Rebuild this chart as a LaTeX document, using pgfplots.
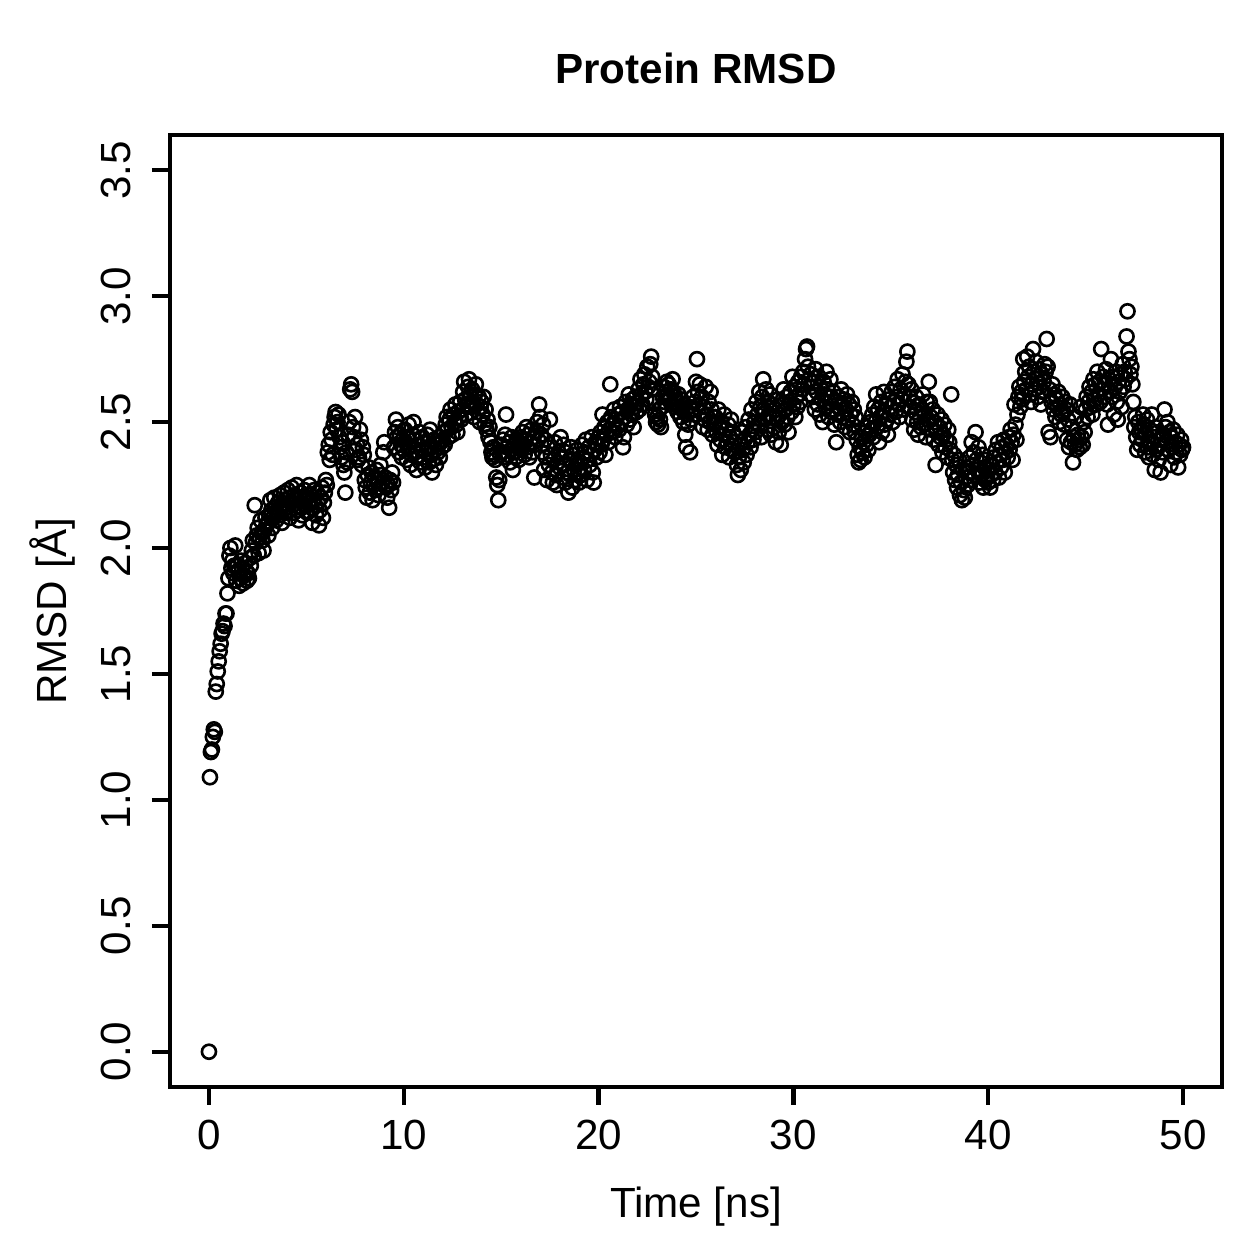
\documentclass[border=0pt]{standalone}
\usepackage{pgfplots}
\pgfplotsset{compat=1.18}
\usepackage{pgfplotstable}
\usepackage{fontspec}
\setmainfont{Liberation Sans}

% Protein backbone RMSD, one frame every 0.05 ns.
% Each row holds one nanosecond: column ck is the frame at t + k*0.05 ns.
\pgfplotstableread{
t c0 c1 c2 c3 c4 c5 c6 c7 c8 c9 c10 c11 c12 c13 c14 c15 c16 c17 c18 c19
0 0.00 1.09 1.19 1.20 1.25 1.28 1.27 1.43 1.46 1.51 1.55 1.59 1.62 1.66 1.67 1.70 1.69 1.74 1.74 1.82
1 1.88 1.97 2.00 1.92 1.95 1.90 1.93 2.01 1.87 1.93 1.91 1.85 1.88 1.95 1.92 1.86 1.89 1.94 1.91 1.87
2 1.90 1.88 1.96 1.93 1.99 2.03 1.97 2.17 2.02 2.05 2.08 1.98 2.04 2.11 2.06 2.03 1.99 2.07 2.12 2.09
3 2.10 2.05 2.13 2.19 2.15 2.08 2.12 2.20 2.16 2.11 2.14 2.18 2.13 2.21 2.17 2.10 2.15 2.22 2.14 2.19
4 2.16 2.23 2.20 2.12 2.18 2.24 2.17 2.14 2.21 2.19 2.25 2.15 2.11 2.20 2.22 2.16 2.13 2.19 2.23 2.17
5 2.20 2.14 2.18 2.25 2.21 2.16 2.10 2.19 2.23 2.17 2.13 2.22 2.18 2.09 2.15 2.20 2.24 2.12 2.18 2.22
6 2.27 2.25 2.38 2.41 2.35 2.46 2.43 2.37 2.49 2.52 2.54 2.47 2.50 2.53 2.44 2.40 2.36 2.42 2.33 2.30
7 2.22 2.38 2.34 2.45 2.50 2.63 2.65 2.62 2.48 2.44 2.52 2.39 2.41 2.35 2.36 2.47 2.43 2.33 2.40 2.37
8 2.27 2.24 2.20 2.29 2.32 2.22 2.26 2.30 2.19 2.25 2.28 2.23 2.31 2.27 2.21 2.24 2.33 2.29 2.26 2.38
9 2.42 2.28 2.24 2.20 2.25 2.16 2.27 2.23 2.30 2.26 2.40 2.46 2.51 2.44 2.48 2.38 2.45 2.41 2.36 2.43
10 2.39 2.47 2.42 2.35 2.44 2.49 2.40 2.33 2.37 2.45 2.50 2.43 2.38 2.31 2.36 2.41 2.46 2.34 2.39 2.44
11 2.36 2.42 2.32 2.38 2.45 2.40 2.34 2.47 2.37 2.30 2.35 2.43 2.39 2.33 2.41 2.38 2.44 2.36 2.42 2.40
12 2.43 2.46 2.41 2.49 2.52 2.47 2.44 2.51 2.55 2.48 2.45 2.53 2.50 2.57 2.49 2.46 2.54 2.52 2.58 2.51
13 2.55 2.62 2.66 2.59 2.53 2.57 2.64 2.67 2.60 2.56 2.63 2.58 2.52 2.61 2.65 2.57 2.54 2.60 2.50 2.56
14 2.58 2.53 2.60 2.49 2.55 2.47 2.51 2.44 2.48 2.42 2.38 2.36 2.40 2.37 2.35 2.28 2.25 2.19 2.27 2.37
15 2.41 2.38 2.43 2.36 2.45 2.53 2.40 2.37 2.42 2.34 2.39 2.44 2.31 2.38 2.41 2.36 2.43 2.40 2.35 2.42
16 2.44 2.39 2.46 2.41 2.37 2.43 2.48 2.40 2.45 2.36 2.42 2.47 2.38 2.44 2.28 2.41 2.46 2.50 2.43 2.57
17 2.52 2.45 2.38 2.49 2.31 2.43 2.36 2.27 2.40 2.33 2.51 2.37 2.30 2.26 2.35 2.42 2.29 2.25 2.34 2.38
18 2.32 2.44 2.36 2.28 2.41 2.33 2.26 2.38 2.30 2.22 2.35 2.29 2.40 2.24 2.37 2.31 2.27 2.33 2.39 2.30
19 2.26 2.34 2.29 2.41 2.36 2.31 2.38 2.43 2.27 2.35 2.40 2.33 2.37 2.44 2.30 2.26 2.39 2.42 2.36 2.41
20 2.44 2.38 2.46 2.41 2.53 2.43 2.48 2.37 2.45 2.50 2.42 2.47 2.65 2.52 2.46 2.49 2.55 2.44 2.51 2.48
21 2.53 2.47 2.56 2.50 2.54 2.40 2.44 2.52 2.58 2.49 2.55 2.61 2.51 2.57 2.53 2.59 2.48 2.56 2.60 2.54
22 2.58 2.63 2.55 2.67 2.61 2.57 2.65 2.69 2.62 2.59 2.72 2.64 2.66 2.73 2.76 2.68 2.63 2.58 2.53 2.50
23 2.52 2.49 2.55 2.51 2.48 2.56 2.60 2.64 2.58 2.62 2.66 2.61 2.65 2.59 2.63 2.57 2.67 2.62 2.56 2.60
24 2.58 2.54 2.61 2.56 2.52 2.59 2.55 2.50 2.57 2.45 2.40 2.53 2.49 2.56 2.38 2.51 2.55 2.60 2.53 2.58
25 2.66 2.75 2.62 2.57 2.65 2.54 2.60 2.48 2.56 2.51 2.64 2.53 2.47 2.58 2.50 2.62 2.55 2.45 2.52 2.49
26 2.52 2.46 2.41 2.55 2.48 2.43 2.50 2.37 2.45 2.53 2.40 2.47 2.42 2.49 2.36 2.44 2.51 2.39 2.46 2.42
27 2.38 2.44 2.33 2.29 2.36 2.41 2.31 2.46 2.39 2.34 2.43 2.48 2.37 2.42 2.51 2.45 2.40 2.55 2.47 2.43
28 2.50 2.46 2.58 2.53 2.49 2.62 2.56 2.44 2.60 2.67 2.55 2.51 2.63 2.47 2.58 2.53 2.61 2.45 2.57 2.52
29 2.48 2.55 2.42 2.51 2.59 2.46 2.53 2.41 2.50 2.57 2.63 2.49 2.55 2.60 2.52 2.46 2.58 2.62 2.54 2.68
30 2.57 2.64 2.52 2.60 2.56 2.66 2.61 2.58 2.68 2.63 2.70 2.65 2.75 2.79 2.80 2.72 2.67 2.61 2.69 2.64
31 2.60 2.66 2.55 2.71 2.62 2.57 2.68 2.53 2.64 2.59 2.50 2.66 2.61 2.56 2.70 2.63 2.52 2.58 2.67 2.60
32 2.55 2.62 2.49 2.58 2.42 2.53 2.60 2.56 2.50 2.63 2.57 2.52 2.59 2.48 2.55 2.61 2.51 2.57 2.46 2.53
33 2.58 2.49 2.55 2.46 2.52 2.43 2.37 2.34 2.40 2.35 2.44 2.38 2.42 2.36 2.46 2.41 2.48 2.39 2.45 2.50
34 2.47 2.53 2.44 2.56 2.50 2.61 2.48 2.55 2.42 2.52 2.58 2.46 2.54 2.62 2.49 2.57 2.51 2.45 2.59 2.53
35 2.56 2.62 2.50 2.58 2.64 2.54 2.60 2.67 2.57 2.52 2.63 2.59 2.69 2.55 2.61 2.66 2.74 2.78 2.65 2.60
36 2.56 2.63 2.51 2.58 2.47 2.54 2.60 2.50 2.45 2.57 2.52 2.48 2.55 2.61 2.49 2.53 2.44 2.58 2.51 2.66
37 2.58 2.52 2.47 2.55 2.43 2.50 2.33 2.46 2.53 2.41 2.48 2.44 2.51 2.38 2.45 2.49 2.40 2.43 2.36 2.47
38 2.42 2.39 2.61 2.35 2.30 2.37 2.27 2.33 2.24 2.29 2.35 2.21 2.26 2.19 2.31 2.23 2.20 2.28 2.32 2.25
39 2.30 2.36 2.27 2.42 2.33 2.38 2.29 2.46 2.35 2.31 2.40 2.26 2.34 2.29 2.37 2.24 2.32 2.27 2.35 2.28
40 2.26 2.31 2.24 2.29 2.33 2.27 2.36 2.30 2.39 2.34 2.42 2.28 2.37 2.32 2.40 2.35 2.43 2.30 2.38 2.41
41 2.36 2.44 2.39 2.47 2.42 2.35 2.45 2.57 2.49 2.43 2.53 2.60 2.64 2.56 2.62 2.59 2.75 2.66 2.70 2.63
42 2.76 2.68 2.72 2.61 2.58 2.65 2.79 2.70 2.63 2.74 2.67 2.60 2.71 2.64 2.57 2.69 2.62 2.66 2.73 2.70
43 2.83 2.72 2.46 2.63 2.44 2.58 2.65 2.55 2.61 2.52 2.59 2.56 2.62 2.50 2.57 2.53 2.60 2.54 2.49 2.58
44 2.55 2.43 2.51 2.40 2.57 2.42 2.48 2.34 2.44 2.41 2.52 2.39 2.45 2.43 2.40 2.56 2.44 2.41 2.50 2.46
45 2.55 2.60 2.52 2.58 2.64 2.56 2.62 2.53 2.67 2.59 2.65 2.57 2.70 2.61 2.66 2.58 2.79 2.63 2.68 2.60
46 2.65 2.71 2.57 2.49 2.67 2.62 2.75 2.60 2.68 2.53 2.64 2.70 2.58 2.51 2.66 2.62 2.69 2.56 2.73 2.64
47 2.70 2.67 2.84 2.94 2.78 2.75 2.69 2.72 2.65 2.58 2.48 2.52 2.44 2.39 2.50 2.46 2.41 2.47 2.43 2.53
48 2.49 2.38 2.45 2.51 2.40 2.36 2.47 2.42 2.53 2.37 2.44 2.31 2.48 2.39 2.46 2.35 2.41 2.30 2.43 2.38
49 2.45 2.55 2.48 2.42 2.50 2.39 2.46 2.33 2.44 2.40 2.47 2.36 2.42 2.38 2.45 2.32 2.41 2.37 2.43 2.39
50 2.40 nan nan nan nan nan nan nan nan nan nan nan nan nan nan nan nan nan nan nan
}\rmsdtable

\begin{document}
\begin{tikzpicture}
\useasboundingbox (-1.70,-1.72) rectangle (10.89,10.87);
\begin{axis}[
  at={(0,0)}, anchor=south west,
  scale only axis, width=10.52cm, height=9.52cm,
  xmin=-2, xmax=52, ymin=-0.14, ymax=3.64,
  axis line style={line width=1.2pt},
  xtick={0,10,20,30,40,50},
  ytick={0,0.5,1,1.5,2,2.5,3,3.5},
  xtick pos=left, ytick pos=left,
  tick align=outside, major tick length=0.18cm,
  every tick/.style={black, line width=1.2pt},
  /pgf/number format/assume math mode=true,
  tick label style={font=\fontsize{12}{14}\selectfont},
  xticklabel style={anchor=base, yshift=-0.445cm},
  yticklabel style={/pgf/number format/fixed, /pgf/number format/fixed zerofill,
    /pgf/number format/precision=1, xshift=-0.213cm, rotate=90, anchor=base},
]
\pgfplotsinvokeforeach{0,...,19}{
  \addplot[only marks, mark=o, mark size=2.0pt,
    mark options={line width=0.75pt, black}]
    table[x expr=\thisrow{t}+#1*0.05, y=c#1] {\rmsdtable};
}
\end{axis}
\node[anchor=base, font=\fontsize{12}{14}\selectfont\bfseries] at (5.26,10.03) {Protein RMSD};
\node[anchor=base, font=\fontsize{12}{14}\selectfont] at (5.26,-1.31) {Time [ns]};
\node[anchor=base, rotate=90, font=\fontsize{12}{14}\selectfont] at (-1.04,4.76) {RMSD [Å]};
\end{tikzpicture}
\end{document}
